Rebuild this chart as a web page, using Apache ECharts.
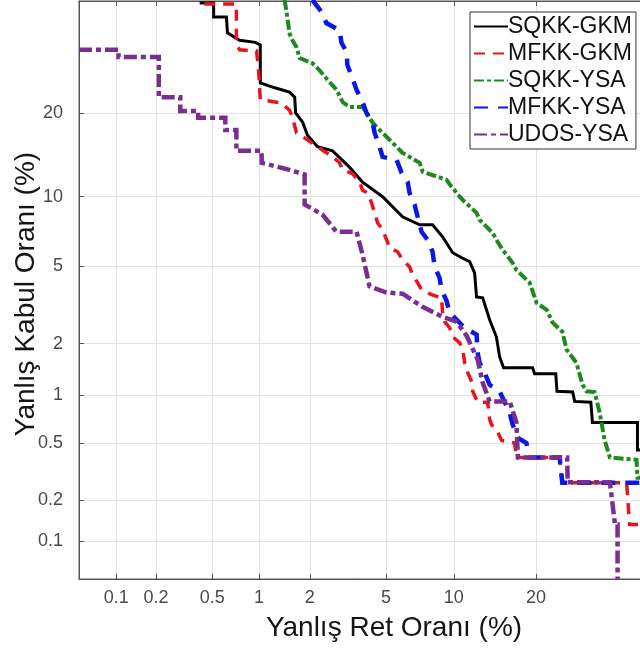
<!DOCTYPE html>
<html>
<head>
<meta charset="utf-8">
<script src="https://cdn.jsdelivr.net/npm/echarts@6/dist/echarts.min.js"></script>
<style>
html,body{margin:0;padding:0;background:#fff;}
#chart{width:640px;height:650px;}
</style>
</head>
<body>
<div id="chart"></div>
<script>
// ---- data (percent values: [Yanlış Ret Oranı, Yanlış Kabul Oranı]) ----
const tickValues = [0.1, 0.2, 0.5, 1, 2, 5, 10, 20];
const tickLabels = ['0.1', '0.2', '0.5', '1', '2', '5', '10', '20'];
const xRange = [0.05, 50];
const yRange = [0.05, 40];
const seriesNames = ['SQKK-GKM', 'MFKK-GKM', 'SQKK-YSA', 'MFKK-YSA', 'UDOS-YSA'];

const sqkkGkm = [[0.41,39.6],[0.51,39.6],[0.51,36.8],[0.62,36.8],[0.63,33.7],[0.755,32.3],[0.95,31.9],[1.02,31.4],[1.02,24.7],[1.25,23.9],[1.53,23.2],[1.64,22.4],[1.66,20.0],[1.82,18.7],[1.94,16.9],[2.21,15.4],[2.67,14.9],[3.28,13.0],[3.83,11.4],[4.81,10.0],[5.98,8.27],[7.15,7.64],[8.14,7.64],[8.98,6.78],[9.89,5.75],[10.76,5.45],[11.57,5.23],[12.09,4.63],[12.3,3.53],[12.98,3.49],[13.79,2.69],[14.6,2.18],[15.0,1.69],[15.5,1.46],[19.5,1.46],[19.8,1.35],[23.1,1.35],[23.3,1.06],[25.95,1.05],[26.3,0.92],[29.2,0.91],[29.5,0.68],[38.3,0.68],[38.3,0.45],[45,0.45]];

const mfkkGkm = [[0.44,39.4],[0.72,39.4],[0.72,31.8],[0.755,30.5],[0.966,30.3],[0.993,27.4],[1.02,22.0],[1.37,21.5],[1.53,20.4],[1.59,19.4],[1.68,17.2],[1.94,16.3],[2.35,15.0],[2.67,14.2],[2.91,13.5],[3.02,12.7],[3.40,12.3],[3.70,11.4],[3.83,10.6],[4.06,10.35],[4.25,9.43],[4.40,8.59],[4.55,7.79],[4.81,7.27],[5.03,6.58],[5.20,6.05],[5.67,5.81],[5.98,5.34],[6.44,4.95],[6.64,4.53],[7.0,4.15],[7.29,3.83],[8.06,3.62],[8.89,3.49],[8.98,2.93],[9.16,2.63],[9.61,2.44],[9.89,2.18],[10.56,2.02],[10.86,1.85],[11.06,1.56],[11.36,1.37],[11.78,1.21],[11.89,1.06],[12.42,0.91],[13.55,0.91],[13.79,0.71],[14.0,0.66],[14.75,0.59],[15.26,0.52],[16.95,0.50],[17.2,0.40],[23.74,0.40],[24.1,0.268],[36.1,0.268],[36.7,0.133],[45,0.133]];

const sqkkYsa = [[1.43,40.2],[1.47,37.8],[1.53,33.6],[1.59,32.3],[1.68,31.0],[1.75,29.0],[2.07,28.1],[2.26,26.9],[2.48,25.4],[2.81,23.55],[3.02,21.65],[3.28,20.9],[3.83,20.9],[4.01,20.0],[4.30,18.6],[4.65,17.6],[5.61,15.4],[5.98,14.65],[7.15,13.48],[7.37,12.5],[9.33,11.64],[9.61,11.2],[10.56,10.0],[10.86,9.7],[12.31,8.59],[12.64,8.03],[14.15,7.05],[14.6,6.58],[15.38,5.93],[16.68,5.17],[17.2,4.78],[19.07,4.15],[20.1,3.29],[21.65,3.03],[22.6,2.60],[24.2,2.32],[24.9,1.85],[26.6,1.56],[27.7,1.16],[28.4,1.06],[29.9,1.05],[30.85,0.785],[31.8,0.52],[32.8,0.40],[38.1,0.386],[38.3,0.29],[45,0.29]];

const mfkkYsa = [[2.07,40.2],[2.35,37.6],[2.47,35.6],[2.91,34.2],[2.98,31.8],[3.17,30.1],[3.20,27.75],[3.40,25.5],[3.57,23.55],[3.83,21.65],[4.01,20.0],[4.30,18.6],[4.40,17.2],[4.65,15.4],[4.81,14.17],[5.61,13.83],[5.92,12.37],[6.31,11.43],[6.44,10.35],[6.79,9.26],[7.0,8.27],[7.29,7.13],[7.75,6.58],[8.14,5.81],[8.31,4.95],[8.72,4.38],[8.89,3.83],[9.33,3.37],[9.61,2.93],[11.05,2.44],[12.31,2.24],[12.42,1.78],[12.64,1.56],[13.2,1.37],[13.79,1.16],[15.0,1.06],[15.38,0.97],[16.28,0.785],[16.68,0.66],[17.4,0.54],[18.6,0.50],[19.07,0.40],[23.74,0.40],[24.2,0.268],[45,0.268]];

const udosYsa = [[0.05,30.5],[0.104,30.5],[0.104,29.2],[0.21,29.2],[0.21,22.4],[0.30,22.4],[0.30,20.3],[0.40,20.3],[0.40,19.3],[0.61,19.3],[0.61,17.6],[0.72,17.6],[0.72,14.9],[1.04,14.9],[1.04,13.5],[1.53,12.7],[1.87,12.2],[1.87,9.3],[2.35,8.45],[2.80,7.13],[3.57,7.13],[3.83,5.63],[4.15,3.98],[5.02,3.71],[5.98,3.66],[7.36,3.14],[8.97,2.79],[10.25,2.63],[11.25,2.21],[12.42,1.63],[12.97,1.20],[13.79,0.92],[16.3,0.92],[17.2,0.68],[17.4,0.40],[25.0,0.40],[25.1,0.27],[32.8,0.27],[33.8,0.133],[34.3,0.133],[34.3,0.05]];

// ---- normal deviate (probit) scale used by DET plots ----
function probit(p) {
  const a=[-3.969683028665376e+01,2.209460984245205e+02,-2.759285104469687e+02,1.383577518672690e+02,-3.066479806614716e+01,2.506628277459239e+00];
  const b=[-5.447609879822406e+01,1.615858368580409e+02,-1.556989798598866e+02,6.680131188771972e+01,-1.328068155288572e+01];
  const c=[-7.784894002430293e-03,-3.223964580411365e-01,-2.400758277161838e+00,-2.549732539343734e+00,4.374664141464968e+00,2.938163982698783e+00];
  const d=[7.784695709041462e-03,3.224671290700398e-01,2.445134137142996e+00,3.754408661907416e+00];
  const pl=0.02425, ph=1-pl;
  let q, r;
  if (p < pl) { q=Math.sqrt(-2*Math.log(p)); return (((((c[0]*q+c[1])*q+c[2])*q+c[3])*q+c[4])*q+c[5])/((((d[0]*q+d[1])*q+d[2])*q+d[3])*q+1); }
  if (p <= ph) { q=p-0.5; r=q*q; return (((((a[0]*r+a[1])*r+a[2])*r+a[3])*r+a[4])*r+a[5])*q/(((((b[0]*r+b[1])*r+b[2])*r+b[3])*r+b[4])*r+1); }
  q=Math.sqrt(-2*Math.log(1-p)); return -(((((c[0]*q+c[1])*q+c[2])*q+c[3])*q+c[4])*q+c[5])/((((d[0]*q+d[1])*q+d[2])*q+d[3])*q+1);
}
const z = v => probit(v / 100);
const tickZ = tickValues.map(z);
function tickFmt(val) {
  let best = 0, bd = Infinity;
  tickZ.forEach((t, i) => { const dd = Math.abs(t - val); if (dd < bd) { bd = dd; best = i; } });
  return tickLabels[best];
}
const toZ = arr => arr.map(([x, y]) => [z(x), z(y)]);

const FONT = '"Liberation Sans", Arial, Helvetica, sans-serif';
const axisColor = '#555555';
const gridColor = '#e3e3e3';

const styles = [
  { color: '#000000', width: 3, type: 'solid' },
  { color: '#e8141c', width: 3.5, type: [11, 8] },
  { color: '#1e8a1e', width: 4, type: [10, 3, 4, 3] },
  { color: '#0a17e6', width: 4.5, type: [14, 10] },
  { color: '#7a2e92', width: 4.5, type: [13, 4, 5, 4] }
];
const allData = [sqkkGkm, mfkkGkm, sqkkYsa, mfkkYsa, udosYsa];

const chart = echarts.init(document.getElementById('chart'), null, { renderer: 'canvas' });
chart.setOption({
  animation: false,
  backgroundColor: '#ffffff',
  grid: { left: 79, top: 1, width: 614, height: 578, containLabel: false, outerBoundsMode: 'none', show: true, borderColor: axisColor, borderWidth: 1, backgroundColor: 'transparent' },
  legend: {
    data: seriesNames,
    orient: 'vertical',
    left: 470, top: 12,
    padding: [3, 4, 3, 3],
    itemGap: 4,
    itemWidth: 34,
    itemHeight: 12,
    itemStyle: { opacity: 0 },
    backgroundColor: '#ffffff',
    borderColor: '#333333',
    borderWidth: 1,
    textStyle: { fontSize: 23, color: '#111111', fontFamily: FONT, lineHeight: 22, padding: [0, 0, 0, -5] },
    selectedMode: false
  },
  xAxis: [{
    type: 'value',
    min: z(xRange[0]), max: z(xRange[1]),
    axisLine: { show: true, onZero: false, lineStyle: { color: axisColor, width: 1 } },
    axisTick: { show: true, inside: true, length: 5, customValues: tickZ, lineStyle: { color: axisColor } },
    axisLabel: { show: true, customValues: tickZ, formatter: tickFmt, color: '#4a4a4a', fontSize: 18, fontFamily: FONT, margin: 10 },
    splitLine: { show: true, customValues: tickZ, lineStyle: { color: gridColor, width: 1 } },
    name: 'Yanlış Ret Oranı (%)',
    nameLocation: 'middle',
    nameGap: 35,
    nameTextStyle: { fontSize: 28, color: '#151515', fontFamily: FONT, padding: [0, 0, 0, 16] }
  }, {
    type: 'value', position: 'top',
    min: z(xRange[0]), max: z(xRange[1]),
    axisLine: { show: true, onZero: false, lineStyle: { color: axisColor, width: 1 } },
    axisTick: { show: true, inside: true, length: 5, customValues: tickZ, lineStyle: { color: axisColor } },
    axisLabel: { show: false },
    splitLine: { show: false }
  }],
  yAxis: [{
    type: 'value',
    min: z(yRange[0]), max: z(yRange[1]),
    axisLine: { show: true, onZero: false, lineStyle: { color: axisColor, width: 1 } },
    axisTick: { show: true, inside: true, length: 5, customValues: tickZ, lineStyle: { color: axisColor } },
    axisLabel: { show: true, customValues: tickZ, formatter: tickFmt, color: '#4a4a4a', fontSize: 18, fontFamily: FONT, margin: 16 },
    splitLine: { show: true, customValues: tickZ, lineStyle: { color: gridColor, width: 1 } },
    name: 'Yanlış Kabul Oranı (%)',
    nameLocation: 'middle',
    nameMoveOverlap: false,
    nameGap: 39,
    nameTextStyle: { fontSize: 28, color: '#151515', fontFamily: FONT, padding: [0, 8, 0, 0] }
  }],
  series: seriesNames.map((n, i) => ({
    name: n,
    type: 'line',
    data: toZ(allData[i]),
    symbol: 'none',
    showSymbol: false,
    clip: true,
    itemStyle: { color: styles[i].color },
    lineStyle: { color: styles[i].color, width: styles[i].width, type: styles[i].type, cap: 'butt', join: 'miter' },
    emphasis: { disabled: true }
  }))
});
</script>
</body>
</html>
